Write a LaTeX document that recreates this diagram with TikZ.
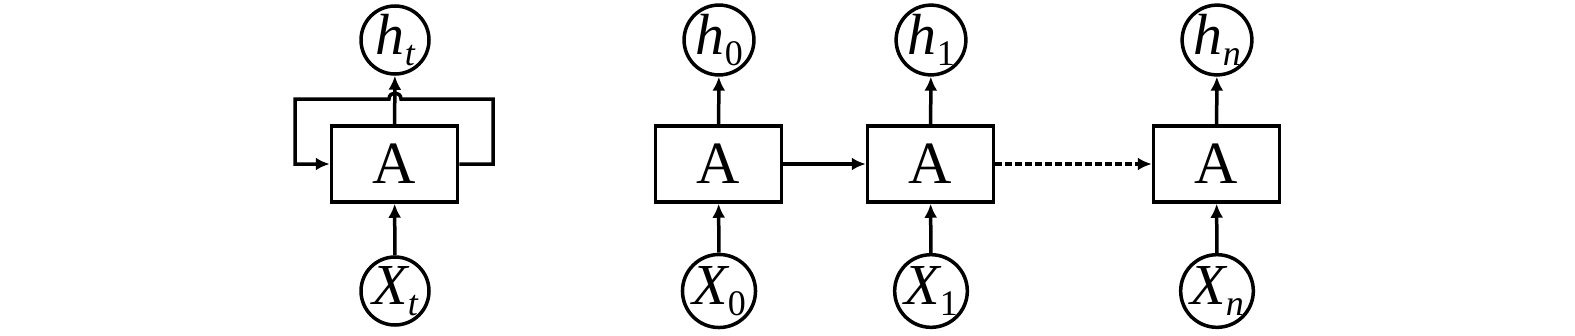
\documentclass[tikz,border=0pt]{standalone}
\usepackage{fontspec}
\setmainfont{Liberation Serif}
\usetikzlibrary{arrows.meta}
\newcommand{\vsub}[2]{{\itshape #1}\kern0.5pt\raisebox{-11pt}{\fontsize{36}{36}\selectfont #2}}
\begin{document}
\begin{tikzpicture}[x=1pt,y=-1pt,
  cell/.style={draw, line width=3.5pt, minimum width=126pt, minimum height=76pt, inner sep=0pt, font=\fontsize{60}{60}\selectfont},
  var/.style={draw, circle, line width=3.5pt, minimum size=68pt, inner sep=0pt, font=\fontsize{58}{58}\selectfont},
  arr/.style={line width=3.5pt, -{Latex[length=14pt,width=13pt]}},
  ln/.style={line width=3.5pt}]
\useasboundingbox (0,0) rectangle (1575,335);
% left folded unit
\node[cell] (A) at (394.5,164) {A};
\node[var] (ht) at (395,40) {\vsub{h}{\itshape t}};
\node[var] (xt) at (395,291) {\vsub{X}{\itshape t}};
\draw[arr] (xt) -- (A);
\draw[arr] (A) -- (ht);
\draw[arr] (A.east) -- (493,164) -- (493,99) -- (401,99) .. controls (401,91) and (389,91) .. (389,99) -- (295,99) -- (295,164) -- (A.west);
% unrolled
\node[cell] (A0) at (718.5,164) {A};
\node[cell] (A1) at (930.5,164) {A};
\node[cell] (An) at (1216.5,164) {A};
\node[var] (h0) at (719,40) {\vsub{h}{0}};
\node[var] (h1) at (931,40) {\vsub{h}{1}};
\node[var] (hn) at (1217,40) {\vsub{h}{\itshape n}};
\node[var] (x0) at (719,291) {\vsub{X}{0}};
\node[var] (x1) at (931,291) {\vsub{X}{1}};
\node[var] (xn) at (1217,291) {\vsub{X}{\itshape n}};
\foreach \a/\h/\x in {A0/h0/x0, A1/h1/x1, An/hn/xn}{
  \draw[arr] (\x) -- (\a);
  \draw[arr] (\a) -- (\h);
}
\draw[arr] (A0) -- (A1);
\draw[arr, dash pattern=on 7pt off 3pt] (A1) -- (An);
\end{tikzpicture}
\end{document}
